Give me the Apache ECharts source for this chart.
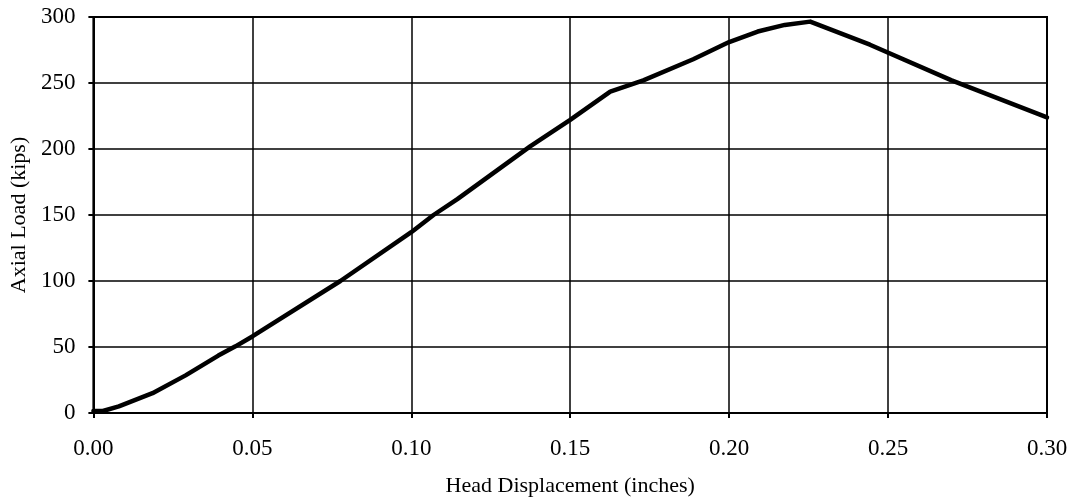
<!DOCTYPE html>
<html>
<head>
<meta charset="UTF-8">
<title>Axial Load vs Head Displacement</title>
<script type="text/javascript" src="https://cdn.jsdelivr.net/npm/echarts@6/dist/echarts.min.js"></script>
<style type="text/css">
body { margin: 0; background: #fff; }
#chart { width: 1078px; height: 502px; }
</style>
</head>
<body>
<div id="chart"></div>
<script>
// head displacement (inches) and axial load (kips)
var displacement = [0, 0.003, 0.008, 0.0186, 0.029, 0.0393, 0.0447, 0.05, 0.0777, 0.10, 0.107, 0.1145,
                    0.1374, 0.15, 0.1626, 0.173, 0.1887, 0.20, 0.209, 0.2175, 0.2255, 0.2443, 0.27, 0.30];
var load = [1.5, 1.5, 5, 15, 28.5, 43.5, 50.5, 58, 100, 137, 150, 162,
            202, 222, 243.5, 252, 268, 281, 289, 294, 296.5, 279, 252, 224];
var xTicks = [0, 0.05, 0.10, 0.15, 0.20, 0.25, 0.30];
var yTicks = [0, 50, 100, 150, 200, 250, 300];

var chart = echarts.init(document.getElementById('chart'));

var pts = [];
for (var i = 0; i < displacement.length; i++) {
    pts.push([displacement[i], load[i]]);
}

var font = 'Liberation Serif';

var option = {
    animation: false,
    grid: {
        left: 93, right: 31, top: 17, bottom: 87,
        show: true,
        borderColor: '#000',
        borderWidth: 2
    },
    xAxis: {
        type: 'value',
        min: xTicks[0],
        max: xTicks[xTicks.length - 1],
        interval: 0.05,
        name: 'Head Displacement (inches)',
        nameLocation: 'middle',
        nameGap: 62,
        nameTextStyle: { fontFamily: font, fontSize: 22, color: '#000' },
        axisLine: { lineStyle: { color: '#000', width: 2 } },
        axisTick: { show: true, length: 5, lineStyle: { color: '#000', width: 2 } },
        axisLabel: {
            fontFamily: font, fontSize: 23, color: '#000', margin: 24,
            formatter: function (v) { return v.toFixed(2); }
        },
        splitLine: { show: true, lineStyle: { color: '#000', width: 1.5 } }
    },
    yAxis: {
        type: 'value',
        min: yTicks[0],
        max: yTicks[yTicks.length - 1],
        interval: 50,
        name: 'Axial Load (kips)',
        nameLocation: 'middle',
        nameGap: 61,
        nameTextStyle: { fontFamily: font, fontSize: 22, color: '#000' },
        axisLine: { show: true, lineStyle: { color: '#000', width: 2 } },
        axisTick: { show: true, length: 5, lineStyle: { color: '#000', width: 2 } },
        axisLabel: { fontFamily: font, fontSize: 23, color: '#000', margin: 18 },
        splitLine: { show: true, lineStyle: { color: '#000', width: 1.5 } }
    },
    series: [{
        type: 'line',
        data: pts,
        showSymbol: false,
        smooth: false,
        clip: false,
        lineStyle: { color: '#000', width: 4.5, join: 'round', cap: 'round' }
    }]
};

chart.setOption(option);
</script>
</body>
</html>
